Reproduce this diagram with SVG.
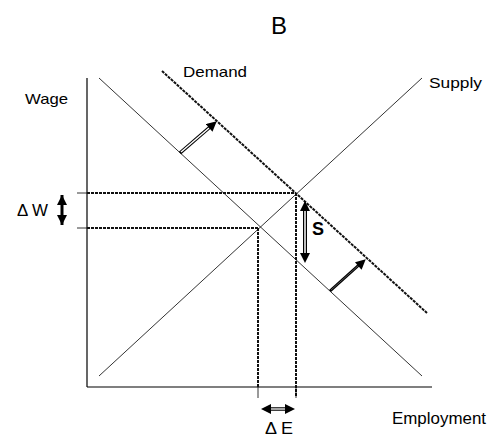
<svg xmlns="http://www.w3.org/2000/svg" width="501" height="439" viewBox="0 0 501 439">
<defs>
<style>
.t{font-family:"Liberation Sans",Arial,sans-serif;fill:#000}
.thin{stroke:#000;stroke-width:0.8;fill:none}
.ax{stroke:#000;stroke-width:1.2;fill:none}
.dot{stroke:#111;stroke-width:2;stroke-dasharray:3 1;fill:none}
</style>
<marker id="ah" viewBox="0 0 10 10" refX="9" refY="5" markerWidth="11" markerHeight="10" markerUnits="userSpaceOnUse" orient="auto-start-reverse">
<path d="M0,0 L10,5 L0,10 Z" fill="#000"/>
</marker>
<marker id="ahb" viewBox="0 0 10 10" refX="10" refY="5" markerWidth="10" markerHeight="11" markerUnits="userSpaceOnUse" orient="auto-start-reverse">
<path d="M0,0 L10,5 L0,10 Z" fill="#000"/>
</marker>
</defs>
<rect width="501" height="439" fill="#fff"/>
<g id="axes">
<line class="ax" x1="87" y1="78" x2="87" y2="387"/>
<line class="ax" x1="87" y1="387" x2="432" y2="387"/>
</g>
<g id="curves">
<line class="thin" x1="99" y1="78" x2="422" y2="376"/>
<line class="thin" x1="99" y1="376" x2="422" y2="78"/>
<line class="dot" x1="162" y1="71" x2="427" y2="313"/>
</g>
<g id="connectors">
<line class="thin" x1="77" y1="193" x2="87" y2="193"/>
<line class="dot" x1="87" y1="193" x2="296" y2="193"/>
<line class="thin" x1="77" y1="228" x2="87" y2="228"/>
<line class="dot" x1="87" y1="228" x2="258" y2="228"/>
<line class="dot" x1="258" y1="228" x2="258" y2="387"/>
<line class="thin" x1="258" y1="387" x2="258" y2="398"/>
<line class="dot" x1="296" y1="193" x2="296" y2="396"/>
<line class="thin" x1="296" y1="387" x2="296" y2="398"/>
<line stroke="#000" stroke-width="3.5" x1="180" y1="153" x2="210" y2="127"/>
<line stroke="#fff" stroke-width="1.5" x1="181" y1="152" x2="209" y2="128"/>
<line stroke="#000" stroke-width="0.01" x1="180" y1="153" x2="216" y2="122" marker-end="url(#ah)"/>
<line stroke="#000" stroke-width="3" x1="330" y1="291" x2="360" y2="264"/>
<line stroke="#555" stroke-width="1" x1="331" y1="290" x2="359" y2="265"/>
<line stroke="#000" stroke-width="0.01" x1="330" y1="291" x2="365" y2="260" marker-end="url(#ah)"/>
<line stroke="#000" stroke-width="4" x1="305" y1="208" x2="305" y2="256"/>
<line stroke="#fff" stroke-width="1.5" x1="305" y1="210" x2="305" y2="254"/>
<line stroke="#000" stroke-width="0.01" x1="305" y1="202" x2="305" y2="262" marker-start="url(#ah)" marker-end="url(#ah)"/>
<line stroke="#000" stroke-width="3" x1="62" y1="195" x2="62" y2="225" marker-start="url(#ahb)" marker-end="url(#ahb)"/>
<line stroke="#000" stroke-width="3.5" x1="268" y1="409" x2="288" y2="409"/>
<line stroke="#fff" stroke-width="1.3" x1="268" y1="409" x2="288" y2="409"/>
<line stroke="#000" stroke-width="0.01" x1="262" y1="409" x2="294" y2="409" marker-start="url(#ah)" marker-end="url(#ah)"/>
</g>
<g id="labels">
<text class="t" x="279" y="34" font-size="24" text-anchor="middle">B</text>
<text class="t" x="183" y="77" font-size="14.5" textLength="64" lengthAdjust="spacingAndGlyphs">Demand</text>
<text class="t" x="429" y="88" font-size="15" textLength="53" lengthAdjust="spacingAndGlyphs">Supply</text>
<text class="t" x="25" y="104" font-size="15" textLength="43" lengthAdjust="spacingAndGlyphs">Wage</text>
<text class="t" x="392" y="424" font-size="16.5" textLength="94" lengthAdjust="spacingAndGlyphs">Employment</text>
<text class="t" x="17" y="216" font-size="16.5" textLength="31" lengthAdjust="spacingAndGlyphs">Δ W</text>
<text class="t" x="265" y="434" font-size="16.5" textLength="28" lengthAdjust="spacingAndGlyphs">Δ E</text>
<text class="t" x="312" y="235" font-size="18" font-weight="bold">S</text>
</g>
</svg>
